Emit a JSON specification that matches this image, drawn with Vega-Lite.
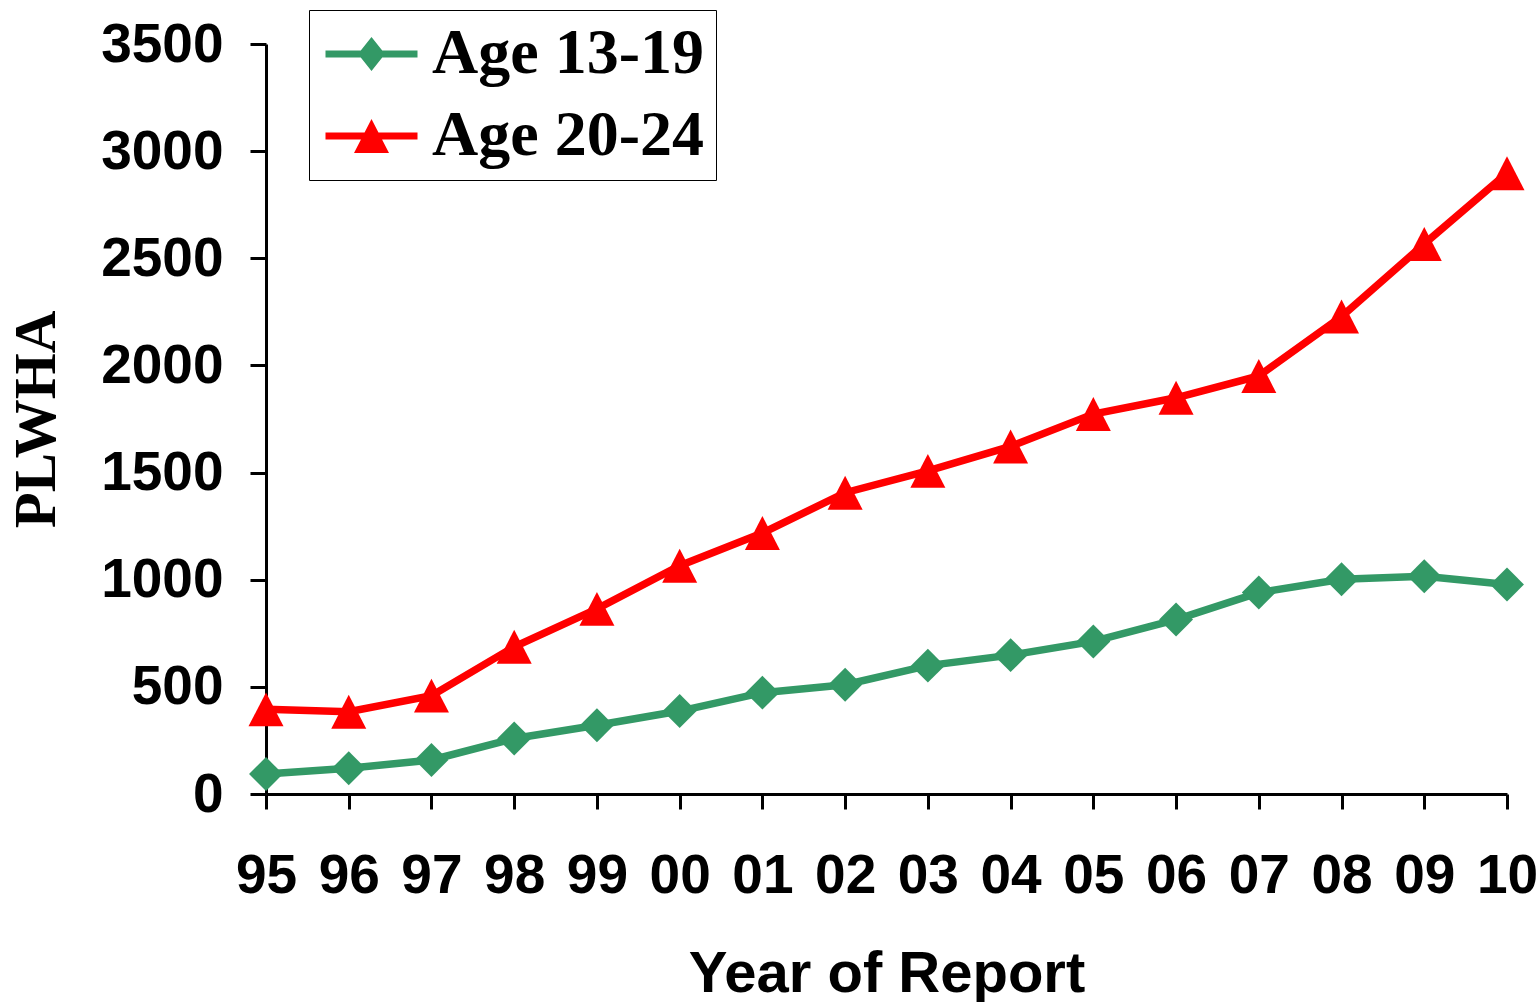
{
  "$schema": "https://vega.github.io/schema/vega-lite/v6.json",
  "description": "PLWHA by year of report, ages 13-19 and 20-24.",
  "width": 1241,
  "height": 750,
  "autosize": {"type": "none"},
  "padding": {"left": 266, "top": 44, "right": 33, "bottom": 208},
  "background": "white",
  "config": {
    "view": {"stroke": null},
    "axis": {
      "grid": false,
      "domainColor": "black",
      "domainWidth": 3,
      "tickColor": "black",
      "tickWidth": 3,
      "labelColor": "black",
      "labelFont": "Liberation Sans",
      "labelFontWeight": "bold",
      "labelFontSize": 55,
      "titleColor": "black"
    },
    "legend": {
      "title": null,
      "orient": "none",
      "legendX": 43,
      "legendY": -34,
      "padding": 12,
      "rowPadding": 18,
      "labelOffset": 47,
      "labelFont": "Liberation Serif",
      "labelFontWeight": "bold",
      "labelFontSize": 64,
      "labelColor": "black",
      "labelLimit": 400,
      "symbolSize": 1600,
      "symbolStrokeWidth": 0,
      "strokeColor": "black",
      "fillColor": "white"
    }
  },
  "data": {
    "values": [
      {"year": "95", "group": "Age 13-19", "plwha": 93},
      {"year": "96", "group": "Age 13-19", "plwha": 120},
      {"year": "97", "group": "Age 13-19", "plwha": 159},
      {"year": "98", "group": "Age 13-19", "plwha": 259},
      {"year": "99", "group": "Age 13-19", "plwha": 321},
      {"year": "00", "group": "Age 13-19", "plwha": 387},
      {"year": "01", "group": "Age 13-19", "plwha": 473},
      {"year": "02", "group": "Age 13-19", "plwha": 510},
      {"year": "03", "group": "Age 13-19", "plwha": 599},
      {"year": "04", "group": "Age 13-19", "plwha": 648},
      {"year": "05", "group": "Age 13-19", "plwha": 712},
      {"year": "06", "group": "Age 13-19", "plwha": 814},
      {"year": "07", "group": "Age 13-19", "plwha": 940},
      {"year": "08", "group": "Age 13-19", "plwha": 1002},
      {"year": "09", "group": "Age 13-19", "plwha": 1016},
      {"year": "10", "group": "Age 13-19", "plwha": 978},
      {"year": "95", "group": "Age 20-24", "plwha": 395},
      {"year": "96", "group": "Age 20-24", "plwha": 384},
      {"year": "97", "group": "Age 20-24", "plwha": 459},
      {"year": "98", "group": "Age 20-24", "plwha": 687},
      {"year": "99", "group": "Age 20-24", "plwha": 864},
      {"year": "00", "group": "Age 20-24", "plwha": 1065},
      {"year": "01", "group": "Age 20-24", "plwha": 1218},
      {"year": "02", "group": "Age 20-24", "plwha": 1406},
      {"year": "03", "group": "Age 20-24", "plwha": 1508},
      {"year": "04", "group": "Age 20-24", "plwha": 1622},
      {"year": "05", "group": "Age 20-24", "plwha": 1773},
      {"year": "06", "group": "Age 20-24", "plwha": 1849},
      {"year": "07", "group": "Age 20-24", "plwha": 1951},
      {"year": "08", "group": "Age 20-24", "plwha": 2228},
      {"year": "09", "group": "Age 20-24", "plwha": 2567},
      {"year": "10", "group": "Age 20-24", "plwha": 2897}
    ]
  },
  "encoding": {
    "x": {
      "field": "year",
      "type": "ordinal",
      "scale": {
        "type": "point",
        "padding": 0,
        "domain": ["95", "96", "97", "98", "99", "00", "01", "02", "03", "04", "05", "06", "07", "08", "09", "10"]
      },
      "axis": {
        "title": "Year of Report",
        "titleFont": "Liberation Sans",
        "titleFontWeight": "bold",
        "titleFontSize": 58,
        "titlePadding": 42,
        "labelAngle": 0,
        "tickSize": 15,
        "labelPadding": 40
      }
    },
    "y": {
      "field": "plwha",
      "type": "quantitative",
      "scale": {"domain": [0, 3500], "nice": false},
      "axis": {
        "title": "PLWHA",
        "titleFont": "Liberation Serif",
        "titleFontWeight": "bold",
        "titleFontSize": 59,
        "titlePadding": 34,
        "values": [0, 500, 1000, 1500, 2000, 2500, 3000, 3500],
        "format": "d",
        "tickSize": 16,
        "labelPadding": 27
      }
    }
  },
  "layer": [
    {
      "transform": [{"filter": "datum.group === 'Age 13-19'"}],
      "mark": {"type": "line", "strokeWidth": 7.5, "color": "#339966"},
      "encoding": {}
    },
    {
      "transform": [{"filter": "datum.group === 'Age 20-24'"}],
      "mark": {"type": "line", "strokeWidth": 7.5, "color": "#FF0000"},
      "encoding": {}
    },
    {
      "transform": [{"filter": "datum.group === 'Age 13-19'"}],
      "mark": {"type": "point", "shape": "diamond", "filled": true, "opacity": 1, "size": 1150, "color": "#339966"}
    },
    {
      "transform": [{"filter": "datum.group === 'Age 20-24'"}],
      "mark": {"type": "point", "shape": "M0,-0.97L1,0.97L-1,0.97Z", "filled": true, "opacity": 1, "size": 1225, "color": "#FF0000"}
    },
    {
      "transform": [{"filter": "datum.plwha < 0"}],
      "mark": {"type": "point", "filled": true, "opacity": 1},
      "encoding": {
        "color": {
          "field": "group",
          "type": "nominal",
          "scale": {"domain": ["Age 13-19", "Age 20-24"], "range": ["#339966", "#FF0000"]},
          "legend": {
            "encode": {"legend": {"update": {"strokeWidth": {"value": 2.5}}}}
          }
        },
        "shape": {
          "field": "group",
          "type": "nominal",
          "scale": {
            "domain": ["Age 13-19", "Age 20-24"],
            "range": [
              "M-1.375,-0.175L3.225,-0.175L3.225,0.175L-1.375,0.175ZM0.925,-0.85L1.6,0L0.925,0.85L0.25,0Z",
              "M-1.375,-0.175L3.225,-0.175L3.225,0.175L-1.375,0.175ZM0.925,-0.85L1.8,0.85L0.05,0.85Z"
            ]
          },
          "legend": {
            "encode": {"legend": {"update": {"strokeWidth": {"value": 2.5}}}}
          }
        }
      }
    }
  ]
}
